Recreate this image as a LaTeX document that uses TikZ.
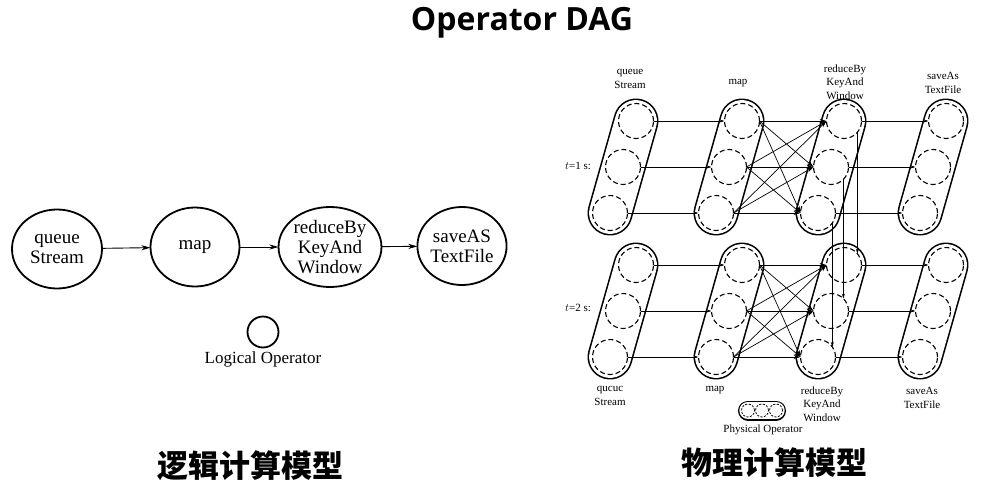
\documentclass[tikz,border=0pt]{standalone}
\usepackage{fontspec}
\setmainfont{Liberation Serif}
\newfontfamily\cjk{Noto Sans CJK SC}
\newfontfamily\titlefont{Open Sans}
\usetikzlibrary{arrows.meta,shapes.geometric,backgrounds}
\tikzset{
  lop/.style={ellipse,draw,line width=1.8pt,inner sep=0pt,outer sep=0pt,align=center,font=\fontsize{19}{20}\selectfont},
  larr/.style={line width=0.9pt,-{Stealth[length=9pt,width=5pt,inset=2.5pt]}},
  pc/.style={circle,draw,dashed,dash pattern=on 5pt off 3pt,line width=1.1pt,minimum size=35pt,inner sep=0pt,outer sep=0pt},
  pcs/.style={circle,draw,dash pattern=on 2.2pt off 1.4pt,line width=0.8pt,minimum size=13pt,inner sep=0pt,outer sep=0pt},
  capo/.style={line width=45pt,line cap=round,black},
  capi/.style={line width=41.8pt,line cap=round,white},
  capso/.style={line width=20pt,line cap=round,black},
  capsi/.style={line width=17.4pt,line cap=round,white},
  conn/.style={line width=0.7pt,-{Stealth[length=5pt,width=3pt]}},
  conn2/.style={line width=0.7pt,-{Stealth[length=7pt,width=4pt]}},
  lab/.style={align=center,inner sep=0pt,font=\fontsize{11}{13.5}\selectfont},
  zh/.style={inner sep=0pt,font=\cjk\bfseries\fontsize{31}{31}\selectfont}
}
\begin{document}
\begin{tikzpicture}[x=1pt,y=-1pt]
\useasboundingbox (0,0) rectangle (991,498);

% title
\node[inner sep=0pt,font=\titlefont\bfseries\fontsize{32}{32}\selectfont] (title) at (522,23) {Operator DAG};

% ---------- logical model ----------
\node[lop,minimum width=90pt,minimum height=79pt] (lq) at (57,249) {queue\\Stream};
\node[lop,minimum width=89pt,minimum height=79pt] (lm) at (195,247) {map};
\node[lop,minimum width=84pt,minimum height=80pt] (lr) at (330,247) {reduceBy\\KeyAnd\\Window};
\node[lop,minimum width=81pt,minimum height=78pt] (ls) at (462,246) {saveAS\\TextFile};
\draw[larr] (lq) -- (lm);
\draw[larr] (lm) -- (lr);
\draw[larr] (lr) -- (ls);
\node[circle,draw,line width=1.8pt,minimum size=31pt,inner sep=0pt] (lleg) at (263,332) {};
\node[inner sep=0pt,font=\fontsize{17}{17}\selectfont] (llegt) at (263,359) {Logical Operator};
\node[zh] (zh1) at (250,466) {逻辑计算模型};

% ---------- physical model ----------
\foreach \n/\x in {q/636,m/742,r/844,s/946}
  \foreach \t/\y in {1/121,2/265}
    \foreach \k/\dx/\dy in {a/0/0,b/13/46,c/26/92}
      \node[pc] (\n\t\k) at (\x-\dx,\y+\dy) {};

\begin{scope}[on background layer]
  \foreach \n in {q,m,r,s}
    \foreach \t in {1,2} {
      \draw[capo] (\n\t a.center) -- (\n\t c.center);
      \draw[capi] (\n\t a.center) -- (\n\t c.center);
    }
\end{scope}

\foreach \t in {1,2} {
  \foreach \k in {a,b,c} {
    \draw[conn] (q\t\k.east) -- (m\t\k.west);
    \draw[conn] (r\t\k.east) -- (s\t\k.west);
    \foreach \j in {a,b,c}
      \draw[conn2] (m\t\k.east) -- (r\t\j.west);
  }
}
\draw[conn] (r1a.-40) -- (r2a.40);
\draw[conn] (r1b.-45) -- (r2b.45);
\draw[conn] (r1c.-35) -- (r2c.35);

% labels
\node[lab] (tq) at (630,79) {queue\\Stream};
\node[lab] (tm) at (738,83) {map};
\node[lab] (tr) at (845,82) {reduceBy\\KeyAnd\\Window};
\node[lab] (ts) at (943,83) {saveAs\\TextFile};
\node[lab] (bq) at (610,396) {qucuc\\Stream};
\node[lab] (bm) at (715,390) {map};
\node[lab] (br) at (822,404) {reduceBy\\KeyAnd\\Window};
\node[lab] (bs) at (922,398) {saveAs\\TextFile};
\node[lab] (t1) at (578,166) {$t$=1 s:};
\node[lab] (t2) at (578,308) {$t$=2 s:};

% legend
\node[pcs] (lg1) at (748,410.5) {};
\node[pcs] (lg2) at (762,410.5) {};
\node[pcs] (lg3) at (776,410.5) {};
\begin{scope}[on background layer]
  \draw[capso] (lg1.center) -- (lg3.center);
  \draw[capsi] (lg1.center) -- (lg3.center);
\end{scope}
\node[lab] (lgt) at (763,430) {Physical Operator};
\node[zh] (zh2) at (774,463) {物理计算模型};
\end{tikzpicture}
\end{document}
